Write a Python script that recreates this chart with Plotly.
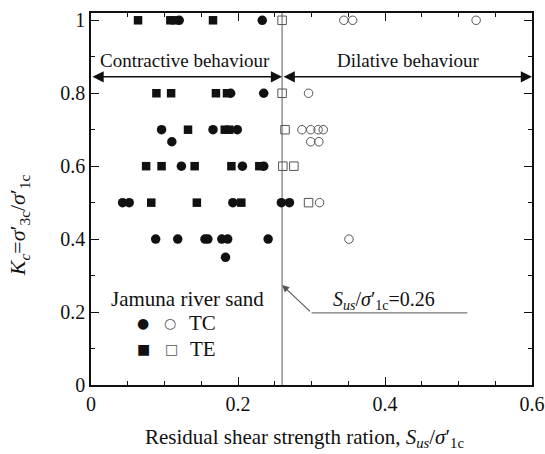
import plotly.graph_objects as go

# ---------------- data ----------------
# TC, contractive (filled circles)
tc_con_x = [0.120, 0.233, 0.190, 0.235, 0.096, 0.166, 0.199, 0.110, 0.123, 0.206, 0.235,
            0.043, 0.052, 0.193, 0.259, 0.270, 0.088, 0.118, 0.155, 0.159, 0.178, 0.186,
            0.241, 0.183]
tc_con_y = [1.0, 1.0, 0.8, 0.8, 0.7, 0.7, 0.7, 0.667, 0.6, 0.6, 0.6,
            0.5, 0.5, 0.5, 0.5, 0.5, 0.4, 0.4, 0.4, 0.4, 0.4, 0.4,
            0.4, 0.35]
# TE, contractive (filled squares)
te_con_x = [0.064, 0.108, 0.114, 0.166, 0.089, 0.109, 0.170, 0.185, 0.132, 0.182, 0.188,
            0.075, 0.096, 0.141, 0.191, 0.229, 0.082, 0.144, 0.2045]
te_con_y = [1.0, 1.0, 1.0, 1.0, 0.8, 0.8, 0.8, 0.8, 0.7, 0.7, 0.7,
            0.6, 0.6, 0.6, 0.6, 0.6, 0.5, 0.5, 0.5]
# TC, dilative (open circles)
tc_dil_x = [0.344, 0.356, 0.524, 0.296, 0.287, 0.299, 0.309, 0.316, 0.299, 0.310, 0.311, 0.351]
tc_dil_y = [1.0, 1.0, 1.0, 0.8, 0.7, 0.7, 0.7, 0.7, 0.667, 0.667, 0.5, 0.4]
# TE, dilative (open squares)
te_dil_x = [0.260, 0.260, 0.264, 0.261, 0.276, 0.296]
te_dil_y = [1.0, 0.8, 0.7, 0.6, 0.6, 0.5]

THRESHOLD = 0.26
x_ticks = [0, 0.2, 0.4, 0.6]
y_ticks = [0, 0.2, 0.4, 0.6, 0.8, 1]

FONT = "Liberation Serif"
BLACK = "#111111"
GREY = "#555555"

fig = go.Figure()

fig.add_trace(go.Scatter(x=tc_con_x, y=tc_con_y, mode="markers", name="TC",
                         marker=dict(symbol="circle", size=9.5, color=BLACK,
                                     line=dict(width=0))))
fig.add_trace(go.Scatter(x=te_con_x, y=te_con_y, mode="markers", name="TE",
                         marker=dict(symbol="square", size=8.5, color=BLACK,
                                     line=dict(width=0))))
fig.add_trace(go.Scatter(x=tc_dil_x, y=tc_dil_y, mode="markers", name="TC open",
                         marker=dict(symbol="circle-open", size=8.5, color=GREY,
                                     line=dict(width=1, color=GREY))))
fig.add_trace(go.Scatter(x=te_dil_x, y=te_dil_y, mode="markers", name="TE open",
                         marker=dict(symbol="square-open", size=8.5, color=GREY,
                                     line=dict(width=1, color=GREY))))

# vertical threshold line
fig.add_shape(type="line", x0=THRESHOLD, x1=THRESHOLD, y0=0, y1=1.02,
              xref="x", yref="y", line=dict(color="#777777", width=1.2), layer="below")

ann = []
# double arrows
arrow_y = 0.845
for x_start, x_end in [(0, THRESHOLD), (THRESHOLD, 0.6)]:
    ann.append(dict(x=x_end, y=arrow_y, ax=x_start, ay=arrow_y, xref="x", yref="y",
                    axref="x", ayref="y", text="", showarrow=True,
                    arrowside="end+start", arrowhead=2, startarrowhead=2,
                    arrowsize=1.4, startarrowsize=1.4, arrowwidth=1.6,
                    arrowcolor=BLACK, standoff=0, startstandoff=0))
ann.append(dict(x=0.128, y=0.891, xref="x", yref="y", text="Contractive behaviour",
                xanchor="center", yanchor="middle",
                showarrow=False, font=dict(family=FONT, size=19, color=BLACK)))
ann.append(dict(x=0.432, y=0.891, xref="x", yref="y", text="Dilative behaviour",
                xanchor="center", yanchor="middle",
                showarrow=False, font=dict(family=FONT, size=19, color=BLACK)))

# threshold callout
fig.add_shape(type="line", x0=0.30, x1=0.512, y0=0.198, y1=0.198, xref="x", yref="y",
              line=dict(color="#777777", width=1.2))
ann.append(dict(x=THRESHOLD, y=0.274, ax=0.30, ay=0.198, xref="x", yref="y",
                axref="x", ayref="y", text="", showarrow=True, arrowhead=2,
                arrowsize=1.3, arrowwidth=1.1, arrowcolor="#555555", standoff=0))
ann.append(dict(x=0.399, y=0.233, xref="x", yref="y",
                text="<i>S<sub>us</sub></i>/<i>σ</i>′<sub>1c</sub>=0.26",
                xanchor="center", yanchor="middle",
                showarrow=False, font=dict(family=FONT, size=20, color=BLACK)))

# legend block (text)
ann.append(dict(x=0.131, y=0.235, xref="x", yref="y", text="Jamuna river sand",
                xanchor="center", yanchor="middle",
                showarrow=False, font=dict(family=FONT, size=21, color=BLACK)))
for gx, gy, g, col in [(0.071, 0.171, "●", BLACK), (0.107, 0.171, "○", GREY),
                       (0.071, 0.098, "■", BLACK), (0.1095, 0.098, "□", GREY)]:
    ann.append(dict(x=gx, y=gy, xref="x", yref="y", text=g, showarrow=False,
                    xanchor="center", yanchor="middle",
                    font=dict(family="DejaVu Sans", size=14, color=col)))
ann.append(dict(x=0.130, y=0.171, xref="x", yref="y", text="TC", xanchor="left",
                yanchor="middle",
                showarrow=False, font=dict(family=FONT, size=21, color=BLACK)))
ann.append(dict(x=0.132, y=0.098, xref="x", yref="y", text="TE", xanchor="left",
                yanchor="middle",
                showarrow=False, font=dict(family=FONT, size=21, color=BLACK)))

# axis titles
ann.append(dict(x=0.483, y=-0.1425, xref="paper", yref="paper",
                xanchor="center", yanchor="middle",
                text="Residual shear strength ration, <i>S<sub>us</sub></i>/<i>σ</i>′<sub>1c</sub>",
                showarrow=False, font=dict(family=FONT, size=21, color=BLACK)))
ann.append(dict(x=-0.163, y=0.43, xref="paper", yref="paper", textangle=-90,
                xanchor="center", yanchor="middle",
                text="<i>K<sub>c</sub></i>=<i>σ</i>′<sub>3c</sub>/<i>σ</i>′<sub>1c</sub>",
                showarrow=False, font=dict(family=FONT, size=22, color=BLACK)))

axis_common = dict(showgrid=False, zeroline=False, showline=True, linecolor=BLACK,
                   linewidth=1.5, mirror="ticks", ticks="inside", ticklen=8,
                   tickwidth=1.3, tickcolor=BLACK, automargin=False,
                   tickfont=dict(family=FONT, size=20, color=BLACK))

fig.update_layout(
    width=545, height=454,
    margin=dict(l=91, r=13, t=13, b=69),
    paper_bgcolor="white", plot_bgcolor="white",
    showlegend=False,
    annotations=ann,
    xaxis=dict(range=[0, 0.6], tickvals=x_ticks, ticktext=[f"{v:g}" for v in x_ticks],
               minor=dict(ticks="inside", ticklen=4, tickwidth=1.2, dtick=0.05,
                          tickcolor=BLACK, showgrid=False),
               **axis_common),
    yaxis=dict(range=[0, 1.02], tickvals=y_ticks, ticktext=[f"{v:g}" for v in y_ticks],
               minor=dict(ticks="inside", ticklen=4, tickwidth=1.2, dtick=0.1,
                          tickcolor=BLACK, showgrid=False),
               **axis_common),
)

fig.write_html("out.html")
